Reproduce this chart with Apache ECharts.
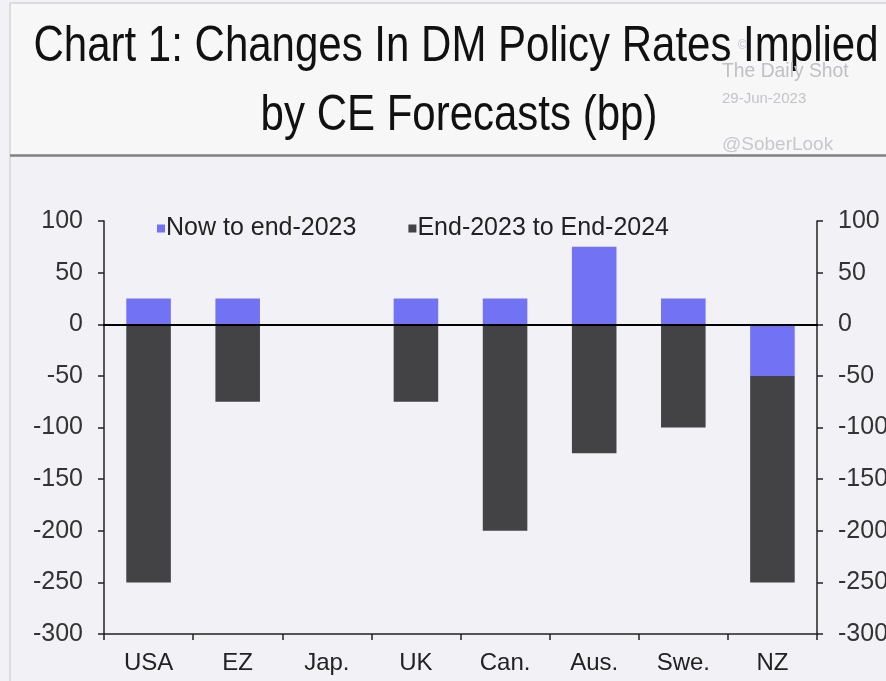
<!DOCTYPE html>
<html>
<head>
<meta charset="utf-8">
<style>
  html, body { margin: 0; padding: 0; background: #f2f2f6; }
  #chart { width: 886px; height: 681px; }
</style>
<script src="https://cdn.jsdelivr.net/npm/echarts@6/dist/echarts.min.js"></script>
</head>
<body>
<div id="chart"></div>
<script>
// Central bank policy rate changes (basis points)
const countries = ['USA', 'EZ', 'Jap.', 'UK', 'Can.', 'Aus.', 'Swe.', 'NZ'];
const nowToEnd2023 = [25, 25, 0, 25, 25, 75, 25, -50];
const end2023ToEnd2024 = [-250, -75, 0, -75, -200, -125, -100, -200];
const seriesNames = ['Now to end-2023', 'End-2023 to End-2024'];
const yTicks = { min: -300, max: 100, step: 50 };

const FONT = '"Liberation Sans", Arial, sans-serif';
const chart = echarts.init(document.getElementById('chart'));

const valueAxis = (pos) => ({
  type: 'value',
  position: pos,
  min: yTicks.min,
  max: yTicks.max,
  interval: yTicks.step,
  axisLine: { show: true, lineStyle: { color: '#222', width: 1.5 } },
  axisTick: { show: true, length: 6, inside: false, lineStyle: { color: '#222', width: 1.5 } },
  axisLabel: { color: '#333', fontSize: 25, fontFamily: FONT, margin: 21 },
  splitLine: { show: false }
});

// horizontally condensed text block for the header
const headText = (text, x, y, size, fill, sx, align) => ({
  type: 'text', x: x, y: y, scaleX: sx,
  style: { text: text, font: size + 'px ' + FONT, fill: fill, align: align || 'left', verticalAlign: 'middle' }
});

chart.setOption({
  backgroundColor: '#f2f2f6',
  animation: false,
  graphic: [
    // header band and frame
    { type: 'rect', shape: { x: 10, y: 3, width: 880, height: 152 }, style: { fill: '#f7f7f8' }, z: -10 },
    { type: 'line', shape: { x1: 10, y1: 3, x2: 886, y2: 3 }, style: { stroke: '#d4d4d8', lineWidth: 1.5 } },
    { type: 'line', shape: { x1: 10, y1: 3, x2: 10, y2: 681 }, style: { stroke: '#d4d4d8', lineWidth: 1.5 } },
    { type: 'line', shape: { x1: 10, y1: 155.5, x2: 886, y2: 155.5 }, style: { stroke: '#808080', lineWidth: 2.5 } },
    // title
    headText('Chart 1: Changes In DM Policy Rates Implied', 456, 47, 50, '#111', 0.84, 'center'),
    headText('by CE Forecasts (bp)', 459, 116, 50, '#111', 0.84, 'center'),
    // source stamp
    headText('©', 738, 46, 12, '#c4c4c8', 1),
    headText('The Daily Shot', 722, 71, 21, '#c0c0c4', 0.92),
    headText('29-Jun-2023', 722, 99, 15, '#c4c4c8', 1),
    headText('@SoberLook', 722, 145, 19, '#c8c8cc', 1)
  ],
  legend: {
    left: 152,
    top: 211,
    itemWidth: 8,
    itemHeight: 8,
    itemGap: 52,
    icon: 'rect',
    textStyle: { fontSize: 25, color: '#222', fontFamily: FONT, padding: [0, 0, 0, -4] },
    data: seriesNames
  },
  grid: { left: 104, right: 69, top: 221, bottom: 47, containLabel: false, outerBoundsMode: 'none' },
  xAxis: [
    {
      type: 'category',
      data: countries,
      position: 'bottom',
      axisLine: { onZero: false, lineStyle: { color: '#222', width: 1.5 } },
      axisTick: { show: true, length: 6, alignWithLabel: false, lineStyle: { color: '#222', width: 1.5 } },
      axisLabel: { color: '#222', fontSize: 24, fontFamily: FONT, margin: 17 }
    },
    {
      type: 'category',
      data: countries,
      position: 'bottom',
      axisLine: { onZero: true, onZeroAxisIndex: 0, lineStyle: { color: '#000', width: 2 } },
      axisTick: { show: false },
      axisLabel: { show: false },
      z: 10
    }
  ],
  yAxis: [valueAxis('left'), valueAxis('right')],
  series: [
    {
      name: seriesNames[0],
      type: 'bar',
      stack: 'total',
      barWidth: '50%',
      itemStyle: { color: '#7272f4' },
      data: nowToEnd2023
    },
    {
      name: seriesNames[1],
      type: 'bar',
      stack: 'total',
      barWidth: '50%',
      itemStyle: { color: '#434346' },
      data: end2023ToEnd2024
    }
  ]
});
</script>
</body>
</html>
